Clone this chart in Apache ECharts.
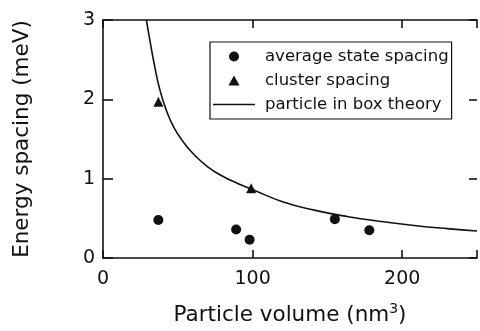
<!DOCTYPE html>
<html><head><meta charset="utf-8">
<script src="https://cdn.jsdelivr.net/npm/echarts@6/dist/echarts.min.js"></script>
<style>html,body{margin:0;padding:0;background:#fff}#c{width:480px;height:331px}</style>
</head><body><div id="c"></div>
<script>
const avgX = [37, 89, 98, 155, 178];
const avgY = [0.48, 0.36, 0.23, 0.49, 0.35];
const clusterX = [37, 99];
const clusterY = [1.97, 0.88];
const theoryX = [29, 31, 34.5, 38, 42, 47, 53, 60, 70, 80, 90, 99, 120, 142, 164, 186, 208, 230, 250];
const theoryY = [3.0, 2.78, 2.42, 2.12, 1.88, 1.66, 1.48, 1.32, 1.15, 1.03, 0.94, 0.87, 0.71, 0.60, 0.52, 0.46, 0.41, 0.37, 0.34];
const xTicks = [0, 100, 200];
const yTicks = [0, 1, 2, 3];
const names = ['average state spacing', 'cluster spacing', 'particle in box theory'];

const C = '#111';
const FONT = 'DejaVu Sans';
const zip = (a, b) => a.map((v, i) => [v, b[i]]);

const chart = echarts.init(document.getElementById('c'), null, {renderer: 'canvas'});
chart.setOption({
  animation: false,
  backgroundColor: '#fff',
  textStyle: {fontFamily: FONT, color: C},
  grid: {left: 103, top: 20, right: 0, bottom: 72},
  legend: {
    orient: 'vertical', left: 210, top: 42,
    borderColor: C, borderWidth: 1.2,
    padding: [6, 3, 6, 3],
    itemWidth: 42, itemHeight: 10, itemGap: 7,
    symbolKeepAspect: true,
    textStyle: {fontFamily: FONT, fontSize: 16.5, color: C, padding: [0, 0, 0, 5]},
    data: [
      {name: names[0], icon: 'circle', itemStyle: {color: C, opacity: 1}},
      {name: names[1], icon: 'path://M5 0L10 9L0 9Z', itemStyle: {color: C, opacity: 1}},
      {name: names[2], icon: 'path://M0 0H40V1.5H0Z', itemStyle: {color: C, opacity: 1}}
    ]
  },
  xAxis: [{
    type: 'value', min: 0, max: 250, interval: 100, position: 'bottom',
    name: 'Particle volume (nm{sup|3})', nameLocation: 'middle', nameGap: 44,
    nameTextStyle: {fontFamily: FONT, fontSize: 21.5, color: C,
      rich: {sup: {fontFamily: FONT, fontSize: 14, color: C, verticalAlign: 'top', padding: [0, 0, 12, 0]}}},
    axisLine: {show: true, onZero: false, lineStyle: {color: C, width: 1.6}},
    axisTick: {show: true, inside: true, length: 8, lineStyle: {color: C, width: 1.6}},
    axisLabel: {fontFamily: FONT, fontSize: 19, color: C, margin: 12,
      formatter: v => xTicks.includes(v) ? String(v) : ''},
    splitLine: {show: false}
  }, {
    type: 'value', min: 0, max: 250, interval: 100, position: 'top', offset: 0,
    axisLine: {show: true, onZero: false, lineStyle: {color: C, width: 1.6}},
    axisTick: {show: true, inside: true, length: 8, lineStyle: {color: C, width: 1.6}},
    axisLabel: {show: false}, splitLine: {show: false}
  }],
  yAxis: [{
    type: 'value', min: 0, max: 3, interval: 1, position: 'left',
    name: 'Energy spacing (meV)', nameLocation: 'middle', nameGap: 70,
    nameTextStyle: {fontFamily: FONT, fontSize: 21.5, color: C},
    axisLine: {show: true, onZero: false, lineStyle: {color: C, width: 1.6}},
    axisTick: {show: true, inside: true, length: 10, lineStyle: {color: C, width: 1.6}},
    axisLabel: {fontFamily: FONT, fontSize: 19, color: C, margin: 8,
      formatter: v => yTicks.includes(v) ? String(v) : ''},
    splitLine: {show: false}
  }, {
    type: 'value', min: 0, max: 3, interval: 1, position: 'right',
    axisLine: {show: false, onZero: false},
    axisTick: {show: true, inside: true, length: 8, lineStyle: {color: C, width: 1.6}},
    axisLabel: {show: false}, splitLine: {show: false}
  }],
  series: [{
    name: names[0], type: 'scatter', symbol: 'circle', symbolSize: 10,
    itemStyle: {color: C, opacity: 1}, data: zip(avgX, avgY), z: 5
  }, {
    name: names[1], type: 'scatter', symbol: 'triangle', symbolSize: 10,
    itemStyle: {color: C, opacity: 1}, data: zip(clusterX, clusterY), z: 5
  }, {
    name: names[2], type: 'line', smooth: 0.5, symbol: 'none', showSymbol: false,
    lineStyle: {color: C, width: 1.6}, itemStyle: {color: C},
    data: zip(theoryX, theoryY), clip: true, z: 4
  }]
});
</script></body></html>
